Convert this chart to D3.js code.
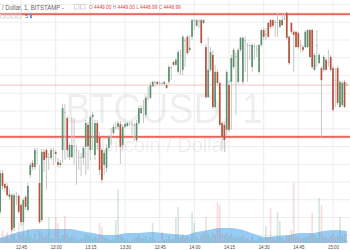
<!DOCTYPE html>
<html>
<head>
<meta charset="utf-8">
<script src="https://cdn.jsdelivr.net/npm/d3@7"></script>
<style>
  html, body { margin: 0; padding: 0; background: #fff; }
  svg { display: block; font-family: "Liberation Sans", Arial, sans-serif; }
</style>
</head>
<body>
<svg id="chart" width="350" height="250"></svg>
<script>
// BTCUSD 1 minute bars, first bar at 12:36
const startTime = '12:36';

const open = [
  4411.6, 4422.5, 4419.4, 4418.9, 4415.8, 4416.3, 4407.1, 4416.1, 4416.1, 4413.5,
  4408.7, 4415.8, 4412.1, 4422.0, 4425.4, 4424.2, 4428.5, 4419.7, 4409.3, 4428.5,
  4429.0, 4426.8, 4426.8, 4429.0, 4428.5, 4425.6, 4424.8, 4429.0, 4439.7, 4438.0,
  4427.0, 4427.0, 4430.1, 4429.0, 4426.8, 4427.0, 4426.8, 4429.9, 4436.1, 4429.0,
  4438.3, 4427.6, 4436.6, 4432.7, 4429.0, 4424.8, 4424.0, 4429.6, 4432.4, 4433.8,
  4435.2, 4435.5, 4436.3, 4430.4, 4435.5, 4435.8, 4436.3, 4436.3, 4436.1, 4431.8,
  4436.6, 4439.4, 4440.8, 4438.9, 4443.7, 4443.7, 4447.0, 4448.2, 4448.2, 4447.9,
  4447.9, 4447.6, 4447.3, 4448.2, 4452.1, 4453.8, 4453.0, 4451.0, 4455.8, 4451.6,
  4460.0, 4460.9, 4457.2, 4460.9, 4465.4, 4464.0, 4465.4, 4465.6, 4464.8, 4458.0,
  4443.9, 4451.6, 4455.8, 4441.1, 4451.0, 4447.9, 4436.6, 4436.1, 4434.7, 4447.3,
  4448.2, 4452.4, 4455.5, 4448.2, 4457.2, 4448.2, 4460.0, 4458.6, 4458.3, 4452.4,
  4458.3, 4457.2, 4451.0, 4458.6, 4462.8, 4461.4, 4464.8, 4465.6, 4465.6, 4465.1,
  4464.8, 4463.7, 4465.6, 4466.2, 4467.6, 4460.9, 4464.8, 4462.3, 4462.3, 4462.0,
  4458.6, 4458.0, 4458.0, 4458.0, 4462.8, 4462.8, 4451.6, 4458.6, 4453.5, 4452.1,
  4451.6, 4454.4, 4453.8, 4455.2, 4452.1, 4448.7, 4452.1, 4441.1, 4441.7, 4448.2,
  4447.6
];
const high = [
  4423.4, 4423.4, 4420.0, 4419.7, 4417.8, 4416.9, 4416.9, 4417.2, 4416.6, 4414.1,
  4415.5, 4416.3, 4419.7, 4425.6, 4426.2, 4429.6, 4429.6, 4424.8, 4429.3, 4429.3,
  4429.6, 4428.2, 4429.6, 4429.6, 4429.0, 4426.8, 4426.2, 4442.0, 4442.0, 4438.6,
  4431.0, 4438.3, 4438.0, 4430.4, 4429.0, 4428.2, 4430.1, 4437.5, 4436.9, 4438.9,
  4439.7, 4437.5, 4437.5, 4434.1, 4429.6, 4429.0, 4430.4, 4433.2, 4435.2, 4436.3,
  4436.9, 4437.2, 4437.2, 4436.3, 4436.9, 4436.9, 4436.9, 4437.2, 4436.6, 4437.5,
  4441.4, 4441.7, 4443.1, 4444.2, 4446.8, 4448.2, 4448.5, 4448.5, 4448.5, 4448.5,
  4448.2, 4448.5, 4447.9, 4453.0, 4452.7, 4454.1, 4454.9, 4457.2, 4457.2, 4461.4,
  4460.6, 4461.4, 4461.4, 4465.9, 4465.9, 4465.9, 4465.9, 4465.9, 4465.9, 4458.9,
  4460.9, 4458.0, 4457.2, 4453.0, 4451.6, 4448.2, 4437.2, 4436.9, 4451.6, 4448.7,
  4455.8, 4457.8, 4456.6, 4457.8, 4460.9, 4461.1, 4460.9, 4459.2, 4458.9, 4459.2,
  4458.9, 4458.6, 4458.9, 4463.1, 4463.4, 4463.4, 4465.1, 4465.9, 4465.9, 4465.6,
  4467.6, 4465.9, 4467.3, 4467.6, 4467.9, 4461.4, 4465.1, 4462.8, 4462.5, 4462.3,
  4460.0, 4458.6, 4462.8, 4463.1, 4463.1, 4463.1, 4456.3, 4462.8, 4456.3, 4452.7,
  4455.8, 4454.9, 4457.2, 4455.8, 4452.7, 4452.1, 4452.7, 4448.7, 4448.5, 4448.7,
  4447.9
];
const low = [
  4411.0, 4417.8, 4417.2, 4415.8, 4414.9, 4405.9, 4406.2, 4413.5, 4411.0, 4407.6,
  4407.9, 4412.1, 4411.6, 4421.1, 4423.4, 4423.4, 4424.8, 4408.2, 4408.7, 4422.8,
  4417.8, 4423.4, 4426.2, 4424.8, 4425.6, 4424.0, 4424.0, 4425.4, 4426.2, 4426.8,
  4426.2, 4426.8, 4424.8, 4419.2, 4423.4, 4421.7, 4424.8, 4422.0, 4423.4, 4426.2,
  4429.0, 4426.2, 4429.0, 4422.0, 4419.7, 4422.0, 4422.8, 4429.0, 4430.4, 4433.2,
  4434.7, 4434.7, 4425.1, 4429.0, 4435.2, 4435.5, 4435.8, 4433.2, 4431.3, 4431.3,
  4436.1, 4439.2, 4436.6, 4438.0, 4443.1, 4443.4, 4446.8, 4446.8, 4447.3, 4447.0,
  4447.3, 4447.3, 4446.2, 4447.6, 4448.7, 4452.7, 4452.7, 4450.4, 4450.1, 4450.1,
  4452.4, 4455.8, 4456.6, 4460.0, 4462.8, 4463.7, 4463.4, 4458.6, 4464.5, 4443.4,
  4443.7, 4451.0, 4440.6, 4440.6, 4447.0, 4435.5, 4429.0, 4428.5, 4433.2, 4434.1,
  4434.7, 4451.8, 4438.9, 4447.6, 4456.6, 4447.6, 4451.0, 4448.2, 4454.4, 4451.0,
  4454.4, 4455.2, 4450.4, 4458.0, 4460.0, 4460.0, 4460.6, 4463.1, 4463.4, 4460.9,
  4460.9, 4463.4, 4464.0, 4465.6, 4460.0, 4453.0, 4461.7, 4451.0, 4457.8, 4457.5,
  4456.6, 4456.6, 4457.8, 4457.8, 4454.9, 4451.8, 4451.3, 4452.4, 4453.2, 4432.7,
  4451.0, 4451.3, 4452.4, 4451.0, 4439.7, 4441.1, 4441.7, 4440.8, 4441.1, 4440.8,
  4447.0
];
const close = [
  4422.5, 4418.9, 4418.3, 4416.3, 4416.6, 4406.5, 4416.3, 4415.8, 4411.6, 4408.7,
  4414.9, 4413.0, 4418.9, 4424.8, 4424.2, 4429.0, 4428.4, 4408.7, 4428.5, 4426.2,
  4426.8, 4427.0, 4429.0, 4428.7, 4427.9, 4424.8, 4425.4, 4440.8, 4439.4, 4429.0,
  4430.4, 4430.4, 4429.9, 4429.1, 4427.0, 4426.8, 4429.6, 4436.6, 4430.1, 4438.3,
  4438.9, 4436.6, 4431.0, 4423.4, 4420.6, 4428.2, 4429.6, 4432.7, 4432.7, 4435.5,
  4435.5, 4436.6, 4429.9, 4435.5, 4436.3, 4436.6, 4436.4, 4436.1, 4435.8, 4436.6,
  4440.8, 4440.8, 4440.6, 4443.7, 4443.9, 4447.3, 4448.2, 4447.9, 4447.6, 4447.8,
  4447.6, 4448.2, 4446.5, 4452.4, 4452.4, 4453.0, 4454.4, 4456.6, 4455.5, 4460.9,
  4459.7, 4456.3, 4457.8, 4465.6, 4465.6, 4465.6, 4465.1, 4459.2, 4465.6, 4443.9,
  4451.6, 4456.6, 4441.1, 4451.0, 4447.9, 4436.1, 4432.7, 4431.8, 4451.0, 4434.7,
  4454.9, 4457.2, 4455.2, 4457.2, 4460.6, 4460.6, 4459.7, 4458.3, 4458.6, 4458.6,
  4458.0, 4457.5, 4458.6, 4462.8, 4460.9, 4461.7, 4460.9, 4463.7, 4464.0, 4464.8,
  4465.1, 4465.6, 4464.2, 4465.9, 4460.6, 4453.5, 4462.3, 4461.4, 4458.0, 4458.0,
  4458.3, 4457.2, 4462.3, 4462.8, 4455.2, 4452.4, 4455.8, 4458.3, 4455.8, 4448.7,
  4455.2, 4451.6, 4453.5, 4451.6, 4440.3, 4448.5, 4442.3, 4448.2, 4447.9, 4441.1,
  4447.3
];
const volume = [
  6, 13, 5, 11, 4, 25, 9, 4, 20, 8,
  22, 6, 14, 7, 4, 9, 3, 12, 10, 6,
  8, 26, 5, 4, 26, 20, 4, 8, 27, 9,
  6, 7, 5, 4, 3, 4, 5, 9, 7, 8,
  4, 6, 5, 20, 16, 6, 5, 4, 3, 5,
  23, 54, 9, 6, 3, 4, 2, 3, 4, 6,
  8, 4, 5, 7, 3, 6, 20, 3, 2, 2,
  11, 3, 4, 7, 3, 4, 25, 36, 6, 9,
  5, 7, 4, 31, 20, 6, 4, 8, 10, 26,
  9, 6, 10, 8, 41, 38, 9, 8, 10, 7,
  9, 6, 5, 7, 6, 8, 4, 5, 3, 6,
  3, 2, 5, 6, 4, 17, 6, 35, 5, 3,
  31, 22, 5, 3, 7, 8, 13, 60, 6, 7,
  4, 5, 6, 7, 9, 30, 8, 5, 45, 38,
  7, 6, 5, 7, 10, 6, 8, 26, 7, 9,
  3
];
// volume average, one reading every 5 bars
const volumeMA = [5, 9, 12, 14, 14, 14, 14, 12, 10, 8, 8, 10, 10, 11, 10, 9,
  8, 11, 13, 15, 15, 13, 9, 6, 7, 8, 10, 10, 12, 13, 12];

const timeTicks = ['12:45', '13:00', '13:15', '13:30', '13:45', '14:00', '14:15', '14:30', '14:45', '15:00'];
const priceTicks = [4405, 4410, 4415, 4420, 4425, 4430, 4435, 4440, 4445, 4450, 4455, 4460, 4465, 4470];
const levels = [4467.3, 4432.7];
const lastPrice = 4447.3;
const legendKeys = ['O', 'H', 'L', 'C'];
const legendValues = ['4449.00', '4449.00', '4448.99', '4448.99'];

const W = 350, H = 250;
const up = '#5e9270', down = '#b5533c', wick = '#c6c6c6';

const svg = d3.select('#chart');
const parseTime = d3.timeParse('%H:%M');
const t0 = parseTime(startTime);

const bars = open.map((o, i) => ({
  t: d3.timeMinute.offset(t0, i),
  o: o, h: high[i], l: low[i], c: close[i], v: volume[i]
}));

const x = d3.scaleTime()
  .domain([t0, parseTime('15:00')])
  .range([0.2, 333]);

const y = d3.scaleLinear()
  .domain([4430, 4450])
  .range([146.5, 75.5]);

const yVol = d3.scaleLinear()
  .domain([0, 60])
  .range([243, 183]);

const bw = 1.7;

// grid
svg.append('g')
  .selectAll('line')
  .data(priceTicks)
  .enter().append('line')
  .attr('x1', 0).attr('x2', W)
  .attr('y1', d => y(d)).attr('y2', d => y(d))
  .attr('stroke', '#ededed');

svg.append('g')
  .selectAll('line')
  .data(timeTicks)
  .enter().append('line')
  .attr('x1', d => x(parseTime(d))).attr('x2', d => x(parseTime(d)))
  .attr('y1', 0).attr('y2', 243)
  .attr('stroke', '#ededed');

// watermark
svg.append('g')
  .attr('transform', 'translate(164,123) scale(0.9,1)')
  .append('text')
  .attr('text-anchor', 'middle')
  .attr('font-size', 42)
  .attr('fill', 'rgba(0,0,0,0.075)')
  .text('BTCUSD, 1');

svg.append('text')
  .attr('x', 165).attr('y', 152)
  .attr('text-anchor', 'middle')
  .attr('font-size', 20)
  .attr('fill', 'rgba(0,0,0,0.075)')
  .text('Bitcoin / Dollar');

// volume average area
const maPts = volumeMA.map((v, k) => ({ t: d3.timeMinute.offset(t0, k * 5), v: v }));
svg.append('path')
  .datum(maPts)
  .attr('fill', '#98cbf3')
  .attr('d', d3.area()
    .x(d => x(d.t))
    .y0(yVol(0))
    .y1(d => yVol(d.v))
    .curve(d3.curveMonotoneX));

// volume bars
svg.append('g')
  .selectAll('rect')
  .data(bars)
  .enter().append('rect')
  .attr('x', d => x(d.t) - bw / 2)
  .attr('width', bw)
  .attr('y', d => yVol(d.v))
  .attr('height', d => yVol(0) - yVol(d.v))
  .attr('fill', d => d.c >= d.o ? 'rgba(80,150,100,0.22)' : 'rgba(200,95,80,0.2)');

// price level lines
svg.append('g')
  .selectAll('line')
  .data(levels)
  .enter().append('line')
  .attr('x1', 0).attr('x2', W)
  .attr('y1', d => y(d)).attr('y2', d => y(d))
  .attr('stroke', 'rgba(229,70,58,0.3)')
  .attr('stroke-width', 2.8);

svg.append('g')
  .selectAll('line')
  .data(levels)
  .enter().append('line')
  .attr('x1', 0).attr('x2', W)
  .attr('y1', d => y(d)).attr('y2', d => y(d))
  .attr('stroke', '#e5463a')
  .attr('stroke-width', 1.4);

svg.append('line')
  .attr('x1', 0).attr('x2', W)
  .attr('y1', y(lastPrice)).attr('y2', y(lastPrice))
  .attr('stroke', 'rgba(225,90,80,0.45)')
  .attr('stroke-width', 0.8);

// candles
const candle = svg.append('g')
  .selectAll('g')
  .data(bars)
  .enter().append('g');

candle.append('line')
  .attr('x1', d => x(d.t)).attr('x2', d => x(d.t))
  .attr('y1', d => y(d.h)).attr('y2', d => y(d.l))
  .attr('stroke', wick)
  .attr('stroke-width', 1);

candle.append('rect')
  .attr('x', d => x(d.t) - bw / 2)
  .attr('width', bw)
  .attr('y', d => y(Math.max(d.o, d.c)))
  .attr('height', d => Math.max(0.8, Math.abs(y(d.o) - y(d.c))))
  .attr('fill', d => Math.abs(d.o - d.c) < 0.35 ? '#bdbdbd' : (d.c >= d.o ? up : down));

// time axis
const axis = svg.append('g')
  .attr('transform', 'translate(0,243)')
  .call(d3.axisBottom(x)
    .tickValues(timeTicks.map(parseTime))
    .tickFormat(d3.timeFormat('%H:%M'))
    .tickSize(0));
axis.select('.domain').remove();
axis.selectAll('text')
  .attr('y', 1.6)
  .attr('font-size', 5.5)
  .attr('font-family', '"Liberation Sans", Arial, sans-serif')
  .attr('fill', '#444')
  .attr('transform', 'scale(0.8,1)');

// header legend
svg.append('g')
  .attr('transform', 'translate(2,9.5) scale(0.8,1)')
  .append('text')
  .attr('font-size', 7.5)
  .attr('fill', '#666')
  .text('/ Dollar, 1, BITSTAMP -');

svg.append('g')
  .selectAll('rect')
  .data([0, 1])
  .enter().append('rect')
  .attr('x', d => 74.5 + d * 6).attr('y', 4.5)
  .attr('width', 4.5).attr('height', 4.5)
  .attr('fill', 'none')
  .attr('stroke', '#c8c8c8')
  .attr('stroke-width', 0.7);

const ohlc = svg.append('g')
  .attr('transform', 'translate(89,9) scale(0.8,1)')
  .append('text')
  .attr('font-size', 6);
legendKeys.forEach((k, i) => {
  ohlc.append('tspan').attr('fill', '#888').text((i ? ' ' : '') + k + ' ');
  ohlc.append('tspan').attr('fill', '#d9443a').text(legendValues[i]);
});

svg.append('g')
  .selectAll('rect')
  .data([0, 1, 2, 3])
  .enter().append('rect')
  .attr('x', d => 0.5 + d * 5.5).attr('y', 14)
  .attr('width', 4).attr('height', 4)
  .attr('fill', 'none')
  .attr('stroke', '#cfcfcf')
  .attr('stroke-width', 0.7);

svg.append('text')
  .attr('x', 25).attr('y', 18.3)
  .attr('font-size', 5.5)
  .attr('fill', '#666')
  .text('5');

svg.append('rect')
  .attr('x', 30).attr('y', 13.8)
  .attr('width', 1.8).attr('height', 4.5)
  .attr('fill', '#4a90e2');
</script>
</body>
</html>
